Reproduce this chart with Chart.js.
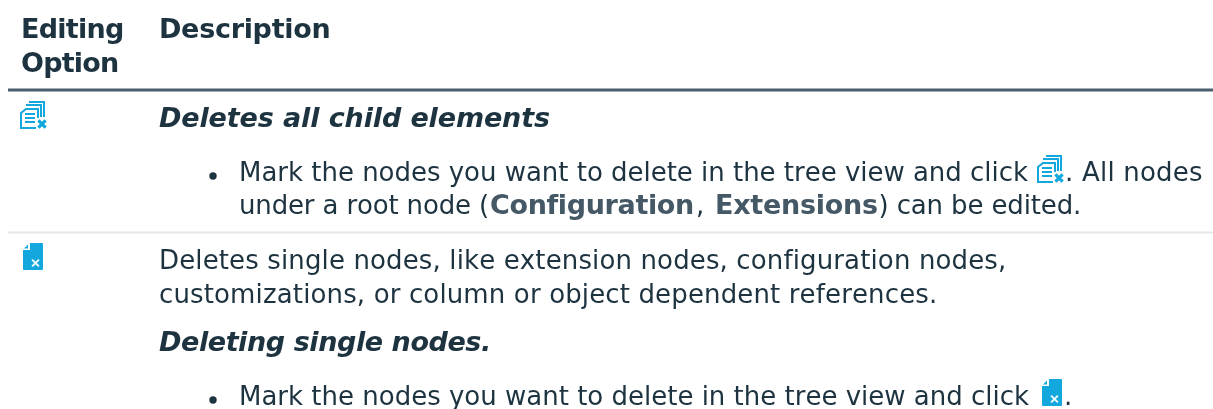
<!DOCTYPE html>
<html>
<head>
<meta charset="utf-8">
<title>Editing options</title>
<script src="https://cdn.jsdelivr.net/npm/chart.js@4/dist/chart.umd.min.js"></script>
<style>
html, body { margin: 0; padding: 0; background: #fff; overflow: hidden; }
canvas { display: block; }
</style>
</head>
<body>
<canvas id="optionsChart" width="1213" height="409"></canvas>
<script>
const headerOption = ['Editing', 'Option'];
const headerDescription = 'Description';
const subheads = ['Deletes all child elements', 'Deleting single nodes.'];
const plainLines = [
    'Deletes single nodes, like extension nodes, configuration nodes,',
    'customizations, or column or object dependent references.'
];
const clickLine = 'Mark the nodes you want to delete in the tree view and click';
const afterIcon = ['. All nodes', '.'];
const wrapRuns = ['under a root node (', 'Configuration', ',', 'Extensions', ') can be edited.'];

// table geometry, the hidden axes run 1:1 with the canvas
const colOption = 21;
const colDesc = 159;
const colBody = 239;
const colBullet = 213;
const textColor = '#1d3340';
const strongColor = '#445866';
const iconBlue = '#12a8de';
const fontBody = '26px "DejaVu Sans"';
const fontBold = 'bold 27px "DejaVu Sans"';
const fontItalic = 'italic bold 27px "DejaVu Sans"';

function iconCanvas(draw) {
    const c = document.createElement('canvas');
    c.width = 30;
    c.height = 30;
    const g = c.getContext('2d');
    g.strokeStyle = iconBlue;
    g.fillStyle = iconBlue;
    draw(g);
    return c;
}

function drawCross(g, x, y, r, w, color) {
    g.strokeStyle = color;
    g.lineWidth = w;
    g.beginPath();
    g.moveTo(x - r, y - r);
    g.lineTo(x + r, y + r);
    g.moveTo(x + r, y - r);
    g.lineTo(x - r, y + r);
    g.stroke();
}

// stacked pages with text lines and a cross
const deleteAllIcon = iconCanvas(g => {
    g.lineWidth = 2;
    g.beginPath();
    g.moveTo(10, 2); g.lineTo(25, 2); g.lineTo(25, 17);
    g.moveTo(7, 5); g.lineTo(22, 5); g.lineTo(22, 17);
    g.stroke();
    g.beginPath();
    g.moveTo(19, 18); g.lineTo(19, 9); g.lineTo(7, 9); g.lineTo(2, 13);
    g.lineTo(2, 28); g.lineTo(17, 28);
    g.stroke();
    g.beginPath();
    g.moveTo(6, 14); g.lineTo(16, 14);
    g.moveTo(6, 18); g.lineTo(16, 18);
    g.moveTo(6, 22); g.lineTo(16, 22);
    g.stroke();
    drawCross(g, 23, 24, 3.6, 3.2, iconBlue);
});

// solid page with a folded corner and a white cross
const deleteOneIcon = iconCanvas(g => {
    g.beginPath();
    g.moveTo(12, 1); g.lineTo(24, 1);
    g.quadraticCurveTo(25, 1, 25, 2);
    g.lineTo(25, 27);
    g.quadraticCurveTo(25, 28, 24, 28);
    g.lineTo(6, 28);
    g.quadraticCurveTo(5, 28, 5, 27);
    g.lineTo(5, 8); g.lineTo(12, 8);
    g.closePath();
    g.fill();
    g.beginPath();
    g.moveTo(10, 2.5); g.lineTo(10, 6.5); g.lineTo(6, 6.5);
    g.closePath();
    g.fill();
    drawCross(g, 17.5, 21, 3.4, 2, '#eef9fd');
});

const tableText = {
    id: 'tableText',
    afterDatasetsDraw(chart) {
        const ctx = chart.ctx;
        const x = chart.scales.x;
        const y = chart.scales.y;
        // draws a line and spreads it so its last glyph ends where the reference does
        const put = (str, px, py, font, inkEnd, color) => {
            ctx.font = font;
            ctx.letterSpacing = '0px';
            let gap = 0;
            if (inkEnd) {
                gap = (inkEnd - px - ctx.measureText(str).actualBoundingBoxRight) / (str.length - 1);
            }
            ctx.letterSpacing = gap.toFixed(3) + 'px';
            ctx.fillStyle = color || textColor;
            ctx.fillText(str, x.getPixelForValue(px), y.getPixelForValue(py));
        };
        ctx.save();
        ctx.textBaseline = 'alphabetic';
        ctx.textAlign = 'left';
        ctx.fontKerning = 'none';

        put(headerOption[0], colOption, 38, fontBold, 123);
        put(headerOption[1], colOption, 72, fontBold, 118);
        put(headerDescription, colDesc, 38, fontBold, 329.5);

        put(subheads[0], colDesc, 127, fontItalic, 550);
        put(clickLine, colBody, 181, fontBody, 1028);
        put(afterIcon[0], 1065, 181, fontBody, 1202);

        put(wrapRuns[0], colBody, 214, fontBody, 488);
        put(wrapRuns[1], 490, 214, fontBold, 692, strongColor);
        put(wrapRuns[2], 696, 214, fontBody);
        put(wrapRuns[3], 715, 214, fontBold, 877, strongColor);
        put(wrapRuns[4], 878.5, 214, fontBody, 1079);

        put(plainLines[0], colDesc, 269, fontBody, 1004);
        put(plainLines[1], colDesc, 303, fontBody, 935);
        put(subheads[1], colDesc, 351, fontItalic, 488);
        put(clickLine, colBody, 405, fontBody, 1029);
        put(afterIcon[1], 1064, 405, fontBody);
        ctx.restore();
    }
};

new Chart(document.getElementById('optionsChart'), {
    type: 'scatter',
    data: {
        datasets: [
            {
                label: 'heavy rule',
                type: 'line',
                data: [{ x: 8, y: 90 }, { x: 1213, y: 90 }],
                borderColor: '#4d5f6c',
                borderWidth: 3,
                pointRadius: 0
            },
            {
                label: 'light rule',
                type: 'line',
                data: [{ x: 8, y: 232.5 }, { x: 1213, y: 232.5 }],
                borderColor: '#e6e8ea',
                borderWidth: 2,
                pointRadius: 0
            },
            {
                label: 'bullets',
                data: [{ x: colBullet, y: 176 }, { x: colBullet, y: 400 }],
                backgroundColor: textColor,
                borderWidth: 0,
                pointRadius: 3.7
            },
            {
                label: 'delete all',
                data: [{ x: 34, y: 115 }, { x: 1051, y: 169 }],
                pointStyle: deleteAllIcon
            },
            {
                label: 'delete one',
                data: [{ x: 33, y: 257 }, { x: 1052, y: 393 }],
                pointStyle: deleteOneIcon
            }
        ]
    },
    options: {
        responsive: false,
        animation: false,
        events: [],
        layout: { padding: 0, autoPadding: false },
        plugins: { legend: { display: false }, tooltip: { enabled: false } },
        scales: {
            x: { type: 'linear', display: false, min: 0, max: 1213 },
            y: { type: 'linear', display: false, min: 0, max: 409, reverse: true }
        }
    },
    plugins: [tableText]
});
</script>
</body>
</html>
